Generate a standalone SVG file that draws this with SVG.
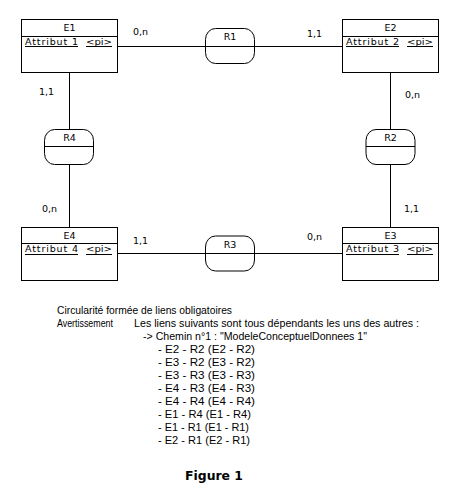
<svg xmlns="http://www.w3.org/2000/svg" width="457" height="496" viewBox="0 0 457 496">
<style>
.bg{fill:#fff}
.box{fill:#fff;stroke:#000;stroke-width:1}
.ln{stroke:#000;stroke-width:1;fill:none}
.t{font-family:"DejaVu Sans",Verdana,sans-serif;font-size:9.5px;fill:#000}
.c{text-anchor:middle}
.n{font-family:"Liberation Sans",Arial,sans-serif;font-size:11px;fill:#000}
.fig{font-family:"DejaVu Sans",Verdana,sans-serif;font-size:12px;font-weight:bold;fill:#000}
</style>
<rect class="bg" x="0" y="0" width="457" height="496"/>
<g id="connectors">
<line class="ln" x1="117" y1="46.5" x2="205.5" y2="46.5"/>
<line class="ln" x1="254.5" y1="46.5" x2="342" y2="46.5"/>
<line class="ln" x1="117" y1="253.5" x2="205.5" y2="253.5"/>
<line class="ln" x1="254.5" y1="253.5" x2="342" y2="253.5"/>
<line class="ln" x1="69.5" y1="72" x2="69.5" y2="129.5"/>
<line class="ln" x1="69.5" y1="164.5" x2="69.5" y2="227"/>
<line class="ln" x1="390.5" y1="72" x2="390.5" y2="129.5"/>
<line class="ln" x1="390.5" y1="164.5" x2="390.5" y2="227"/>
<text class="t" x="133" y="35">0,n</text>
<text class="t" x="307" y="37">1,1</text>
<text class="t" x="39" y="95">1,1</text>
<text class="t" x="405" y="98">0,n</text>
<text class="t" x="42" y="212">0,n</text>
<text class="t" x="404" y="212">1,1</text>
<text class="t" x="133" y="244">1,1</text>
<text class="t" x="307" y="240">0,n</text>
</g>
<g id="E1">
<rect class="box" x="21.5" y="19.5" width="96" height="53"/>
<line class="ln" x1="21.5" y1="36.5" x2="117.5" y2="36.5"/>
<text class="t c" x="69.5" y="31">E1</text>
<text class="t" x="25" y="44.5" textLength="53" lengthAdjust="spacing">Attribut 1</text>
<text class="t" x="86" y="44.5" textLength="26" lengthAdjust="spacingAndGlyphs">&lt;pi&gt;</text>
<line class="ln" x1="25" y1="46.5" x2="78" y2="46.5"/>
<line class="ln" x1="86" y1="46.5" x2="112" y2="46.5"/>
</g>
<g id="E2">
<rect class="box" x="342.5" y="19.5" width="96" height="53"/>
<line class="ln" x1="342.5" y1="36.5" x2="438.5" y2="36.5"/>
<text class="t c" x="390.5" y="31">E2</text>
<text class="t" x="346" y="44.5" textLength="53" lengthAdjust="spacing">Attribut 2</text>
<text class="t" x="407" y="44.5" textLength="26" lengthAdjust="spacingAndGlyphs">&lt;pi&gt;</text>
<line class="ln" x1="346" y1="46.5" x2="399" y2="46.5"/>
<line class="ln" x1="407" y1="46.5" x2="433" y2="46.5"/>
</g>
<g id="E3">
<rect class="box" x="342.5" y="227.5" width="96" height="53"/>
<line class="ln" x1="342.5" y1="243.5" x2="438.5" y2="243.5"/>
<text class="t c" x="390.5" y="239">E3</text>
<text class="t" x="346" y="252" textLength="53" lengthAdjust="spacing">Attribut 3</text>
<text class="t" x="407" y="252" textLength="26" lengthAdjust="spacingAndGlyphs">&lt;pi&gt;</text>
<line class="ln" x1="346" y1="254.5" x2="399" y2="254.5"/>
<line class="ln" x1="407" y1="254.5" x2="433" y2="254.5"/>
</g>
<g id="E4">
<rect class="box" x="21.5" y="227.5" width="96" height="53"/>
<line class="ln" x1="21.5" y1="243.5" x2="117.5" y2="243.5"/>
<text class="t c" x="69.5" y="239">E4</text>
<text class="t" x="25" y="252" textLength="53" lengthAdjust="spacing">Attribut 4</text>
<text class="t" x="86" y="252" textLength="26" lengthAdjust="spacingAndGlyphs">&lt;pi&gt;</text>
<line class="ln" x1="25" y1="254.5" x2="78" y2="254.5"/>
<line class="ln" x1="86" y1="254.5" x2="112" y2="254.5"/>
</g>
<g id="R1">
<rect class="box" x="205.5" y="28.5" width="49" height="35" rx="10" ry="11"/>
<line class="ln" x1="205.5" y1="46.5" x2="254.5" y2="46.5"/>
<text class="t c" x="230" y="40">R1</text>
</g>
<g id="R2">
<rect class="box" x="366" y="129.5" width="49" height="35" rx="10" ry="11"/>
<line class="ln" x1="366" y1="146.5" x2="415" y2="146.5"/>
<text class="t c" x="390.5" y="141">R2</text>
</g>
<g id="R3">
<rect class="box" x="205.5" y="236" width="49" height="35" rx="10" ry="11"/>
<line class="ln" x1="205.5" y1="253.5" x2="254.5" y2="253.5"/>
<text class="t c" x="230" y="247.5">R3</text>
</g>
<g id="R4">
<rect class="box" x="44.5" y="129.5" width="49" height="35" rx="10" ry="11"/>
<line class="ln" x1="44.5" y1="146.5" x2="93.5" y2="146.5"/>
<text class="t c" x="69.5" y="141">R4</text>
</g>
<g id="note">
<text class="n" x="57" y="314" textLength="175" lengthAdjust="spacingAndGlyphs">Circularité formée de liens obligatoires</text>
<text class="n" x="57" y="327" textLength="56" lengthAdjust="spacingAndGlyphs">Avertissement</text>
<text class="n" x="134" y="327" textLength="285" lengthAdjust="spacingAndGlyphs">Les liens suivants sont tous dépendants les uns des autres :</text>
<text class="n" x="143" y="340" textLength="224" lengthAdjust="spacingAndGlyphs">-&gt; Chemin n°1 : "ModeleConceptuelDonnees 1"</text>
<text class="n" x="158" y="353" textLength="97" lengthAdjust="spacingAndGlyphs">- E2 - R2 (E2 - R2)</text>
<text class="n" x="158" y="366" textLength="97" lengthAdjust="spacingAndGlyphs">- E3 - R2 (E3 - R2)</text>
<text class="n" x="158" y="379" textLength="97" lengthAdjust="spacingAndGlyphs">- E3 - R3 (E3 - R3)</text>
<text class="n" x="158" y="392" textLength="97" lengthAdjust="spacingAndGlyphs">- E4 - R3 (E4 - R3)</text>
<text class="n" x="158" y="405" textLength="97" lengthAdjust="spacingAndGlyphs">- E4 - R4 (E4 - R4)</text>
<text class="n" x="158" y="418" textLength="93" lengthAdjust="spacingAndGlyphs">- E1 - R4 (E1 - R4)</text>
<text class="n" x="158" y="431" textLength="91" lengthAdjust="spacingAndGlyphs">- E1 - R1 (E1 - R1)</text>
<text class="n" x="158" y="444" textLength="92" lengthAdjust="spacingAndGlyphs">- E2 - R1 (E2 - R1)</text>
<text class="fig" x="185" y="480" textLength="58" lengthAdjust="spacingAndGlyphs">Figure 1</text>
</g>
</svg>
